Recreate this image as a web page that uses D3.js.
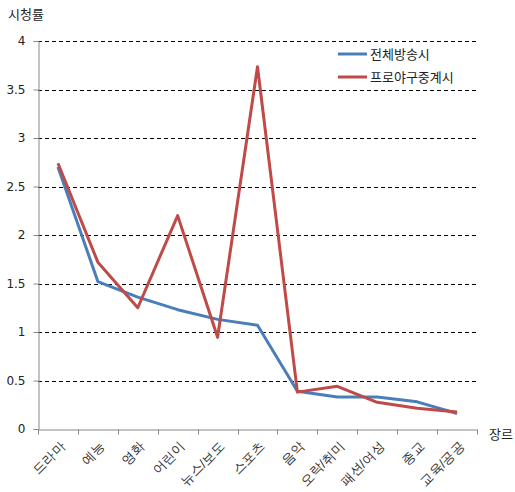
<!DOCTYPE html>
<html>
<head>
<meta charset="utf-8">
<script src="https://cdn.jsdelivr.net/npm/d3@7"></script>
<style>
  html, body { margin: 0; padding: 0; background: #fff; }
  svg { display: block; font-family: "Noto Sans CJK KR", "Noto Sans", sans-serif; }
</style>
</head>
<body>
<svg id="chart" width="515" height="492"></svg>
<script>
// Genres and viewing ratings
const categories = ["드라마", "예능", "영화", "어린이", "뉴스/보도", "스포츠", "음악", "오락/취미", "패션/여성", "종교", "교육/공공"];
const allBroadcast = [2.70, 1.52, 1.36, 1.23, 1.13, 1.07, 0.39, 0.33, 0.33, 0.28, 0.16];
const baseballBroadcast = [2.74, 1.72, 1.25, 2.20, 0.945, 3.735, 0.38, 0.44, 0.275, 0.215, 0.175];
const seriesNames = ["전체방송시", "프로야구중계시"];
const seriesColors = ["#4A7EBB", "#BE4B48"];
const yTicks = [0, 0.5, 1, 1.5, 2, 2.5, 3, 3.5, 4];

const svg = d3.select("#chart");
const plotLeft = 38, plotRight = 477, plotTop = 41, plotBottom = 429;

const x = d3.scaleBand().domain(categories).range([plotLeft, plotRight]);
const y = d3.scaleLinear().domain([0, 4]).range([plotBottom, plotTop]);

// dashed horizontal grid
svg.append("g")
  .selectAll("line")
  .data(yTicks.filter(d => d > 0))
  .join("line")
  .attr("x1", plotLeft).attr("x2", plotRight)
  .attr("y1", d => Math.round(y(d)) + 0.5).attr("y2", d => Math.round(y(d)) + 0.5)
  .attr("stroke", "#000").attr("stroke-width", 1)
  .attr("stroke-dasharray", "4,3");

// y axis
const yAxis = svg.append("g")
  .attr("transform", `translate(${plotLeft + 0.5},0)`)
  .call(d3.axisLeft(y).tickValues(yTicks).tickFormat(d3.format("")).tickSize(5).tickPadding(8));
yAxis.select(".domain").attr("stroke", "#888");
yAxis.selectAll(".tick line").attr("stroke", "#888");
yAxis.selectAll(".tick text").attr("font-size", 12).attr("fill", "#222")
  .attr("font-family", "'DejaVu Sans', sans-serif");

// x axis
const xAxis = svg.append("g")
  .attr("transform", `translate(0,${Math.round(plotBottom) + 0.5})`)
  .call(d3.axisBottom(x).tickSize(0).tickPadding(0));
xAxis.select(".domain").attr("stroke", "#888");
// boundary ticks between categories
xAxis.selectAll(".bnd")
  .data(d3.range(categories.length + 1))
  .join("line")
  .attr("class", "bnd")
  .attr("x1", i => Math.round(plotLeft + i * x.step()) + 0.5)
  .attr("x2", i => Math.round(plotLeft + i * x.step()) + 0.5)
  .attr("y1", 0).attr("y2", 5)
  .attr("stroke", "#888");
xAxis.selectAll(".tick text")
  .attr("font-size", 13).attr("fill", "#333")
  .attr("text-anchor", "end")
  .attr("dy", "0")
  .attr("transform", "translate(1,11) rotate(-45)")
  .attr("dominant-baseline", "hanging");

// lines
const line = d3.line()
  .x((d, i) => x(categories[i]) + x.bandwidth() / 2)
  .y(d => y(d));

[allBroadcast, baseballBroadcast].forEach((vals, k) => {
  svg.append("path")
    .datum(vals)
    .attr("d", line)
    .attr("fill", "none")
    .attr("stroke", seriesColors[k])
    .attr("stroke-width", 3)
    .attr("stroke-linejoin", "round");
});

// axis titles
svg.append("text").attr("x", 8).attr("y", 19).attr("font-size", 13).attr("fill", "#222").text("시청률");
svg.append("text").attr("x", 489).attr("y", 439).attr("font-size", 13).attr("fill", "#222").text("장르");

// legend
const legend = svg.append("g").attr("transform", "translate(338,54)");
seriesNames.forEach((name, k) => {
  const g = legend.append("g").attr("transform", `translate(0,${k * 23})`);
  g.append("line").attr("x1", 0).attr("x2", 29).attr("y1", 0).attr("y2", 0)
    .attr("stroke", seriesColors[k]).attr("stroke-width", 3);
  g.append("text").attr("x", 32).attr("y", 5).attr("font-size", 13).attr("fill", "#222").text(name);
});
</script>
</body>
</html>
